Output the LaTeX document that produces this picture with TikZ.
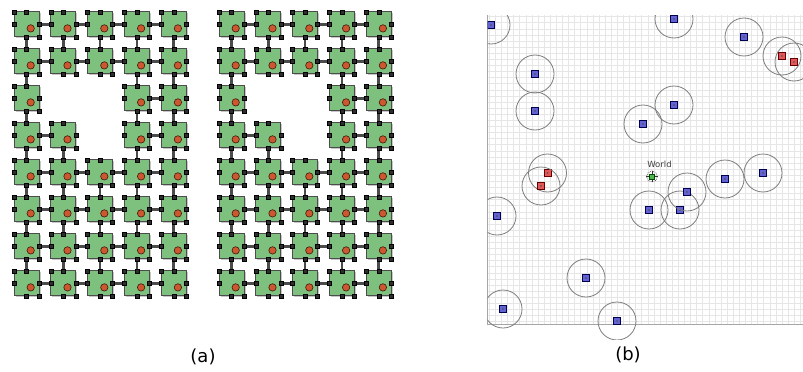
\documentclass[tikz,border=0pt]{standalone}
\usepackage{fontspec}
\setmainfont{DejaVu Sans}
\definecolor{cellgreen}{RGB}{126,192,126}
\definecolor{cellred}{RGB}{205,88,48}
\definecolor{portc}{RGB}{45,45,45}
\definecolor{linkc}{RGB}{75,75,75}
\definecolor{gridc}{RGB}{230,230,230}
\definecolor{bluen}{RGB}{98,98,212}
\definecolor{redn}{RGB}{226,88,88}
\definecolor{ringc}{RGB}{125,125,125}
\newcommand\cellmiss[3]{\pgfmathtruncatemacro#3{(#1==2)*((#2==1)+(#2==2))+(#1==3)*(#2==2)}}
\begin{document}
\begin{tikzpicture}[x=1pt,y=-1pt,
  cell/.style={rectangle,draw=black!70,line width=0.9pt,fill=cellgreen,minimum size=25pt,inner sep=0pt,outer sep=0pt},
  cellshadow/.style={fill=black!22},
  port/.style={rectangle,draw=black,fill=portc,line width=0.4pt,minimum size=4pt,inner sep=0pt},
  link/.style={draw=linkc,line width=2.6pt},
  core/.style={circle,draw=black!70!cellred,fill=cellred,line width=0.6pt,minimum size=7.4pt,inner sep=0pt},
  gridline/.style={draw=gridc,line width=0.6pt},
  frame/.style={draw=black!35,line width=0.9pt},
  bnode/.style={rectangle,draw=black!70!blue,fill=bluen,line width=0.5pt,minimum size=7pt,inner sep=0pt},
  rnode/.style={rectangle,draw=black!60!red,fill=redn,line width=0.5pt,minimum size=7pt,inner sep=0pt},
  rangec/.style={draw=ringc,line width=0.8pt},
  captxt/.style={font=\fontsize{18}{20}\selectfont,inner sep=0pt}
]
\useasboundingbox (0,0) rectangle (803,372);
% ---------------- (a) ----------------
\foreach \g in {0,1}{
 \foreach \r in {0,...,7}{
  \foreach \c in {0,...,4}{
   \cellmiss{\r}{\c}\mm
   \ifnum\mm=0
    \pgfmathsetmacro\bx{14+36.8*\c+205*\g}
    \pgfmathsetmacro\by{11.7+37*\r}
    \fill[cellshadow] (\bx+1.6,\by+1.6) rectangle ++(25,25);
    \node[cell] (b\g-\r-\c) at (\bx+12.5,\by+12.5) {};
    \node[core] (k\g-\r-\c) at (\bx+16.7,\by+16.7) {};
   \fi
  }}}
% links
\foreach \g in {0,1}{
 \foreach \r in {0,...,7}{
  \foreach \c in {0,...,3}{
   \pgfmathtruncatemacro\cn{\c+1}
   \cellmiss{\r}{\c}\ma \cellmiss{\r}{\cn}\mb
   \ifnum\numexpr\ma+\mb\relax=0
    \draw[link] (b\g-\r-\c.east) -- (b\g-\r-\cn.west);
   \fi
  }}}
\foreach \g in {0,1}{
 \foreach \r in {0,...,6}{
  \foreach \c in {0,...,4}{
   \pgfmathtruncatemacro\rn{\r+1}
   \cellmiss{\r}{\c}\ma \cellmiss{\rn}{\c}\mb
   \ifnum\numexpr\ma+\mb\relax=0
    \draw[link] (b\g-\r-\c.south) -- (b\g-\rn-\c.north);
   \fi
  }}}
% ports
\foreach \g in {0,1}{
 \foreach \r in {0,...,7}{
  \foreach \c in {0,...,4}{
   \cellmiss{\r}{\c}\mm
   \ifnum\mm=0
    \node[port] (p\g-\r-\c-a) at (b\g-\r-\c.north west) {};
    \node[port] (p\g-\r-\c-b) at (b\g-\r-\c.north) {};
    \node[port] (p\g-\r-\c-c) at (b\g-\r-\c.west) {};
    \node[port] (p\g-\r-\c-d) at (b\g-\r-\c.east) {};
    \node[port] (p\g-\r-\c-e) at (b\g-\r-\c.south) {};
    \node[port] (p\g-\r-\c-f) at (b\g-\r-\c.south east) {};
   \fi
  }}}
\node[captxt] (capa) at (203,357) {(a)};
% ---------------- (b) ----------------
\foreach \k in {0,...,51}{\draw[gridline] (489.2+6.1*\k,15) -- (489.2+6.1*\k,324);}
\foreach \k in {0,...,50}{\draw[gridline] (487,16.6+6.1*\k) -- (803,16.6+6.1*\k);}
\draw[frame] (487.5,15) -- (487.5,324.5) -- (803,324.5);
\begin{scope}
\clip (487.5,15) rectangle (803,339);
\foreach \n/\x/\y in {n1/491/25, n2/674/19, n3/744/37, n6/535/74, n7/535/111, n8/674/105,
  n9/643/124, n12/497/216, n13/649/210, n14/680/210, n15/687/192, n16/725/179,
  n17/763/173, n18/586/278, n19/503/309, n20/617/321}{
  \node[bnode] (\n) at (\x,\y) {};
  \draw[rangec] (\n.center) circle[radius=19pt];
  \fill[black!70] (\n.center) circle[radius=0.9pt];
}
\foreach \n/\x/\y in {n4/782/56, n5/794/62, n10/547.5/173, n11/541/186}{
  \node[rnode] (\n) at (\x,\y) {};
  \draw[rangec] (\n.center) circle[radius=19pt];
  \fill[black!70] (\n.center) circle[radius=0.9pt];
}
\end{scope}
% World
\node[circle,draw=black!80,densely dotted,line width=0.6pt,minimum size=11pt,inner sep=0pt] (world) at (652,176.5) {};
\draw[black!80,line width=0.4pt] (world.north) -- (world.south) (world.west) -- (world.east);
\node[rectangle,draw=black!70!green,fill=green!60!black!70,minimum size=5pt,inner sep=0pt] (worldc) at (652,176.5) {};
\node[font=\fontsize{8.5}{9}\selectfont,text=black!75,inner sep=0pt] (worldl) at (659.5,164) {World};
\node[captxt] (capb) at (628,355) {(b)};
\end{tikzpicture}
\end{document}
